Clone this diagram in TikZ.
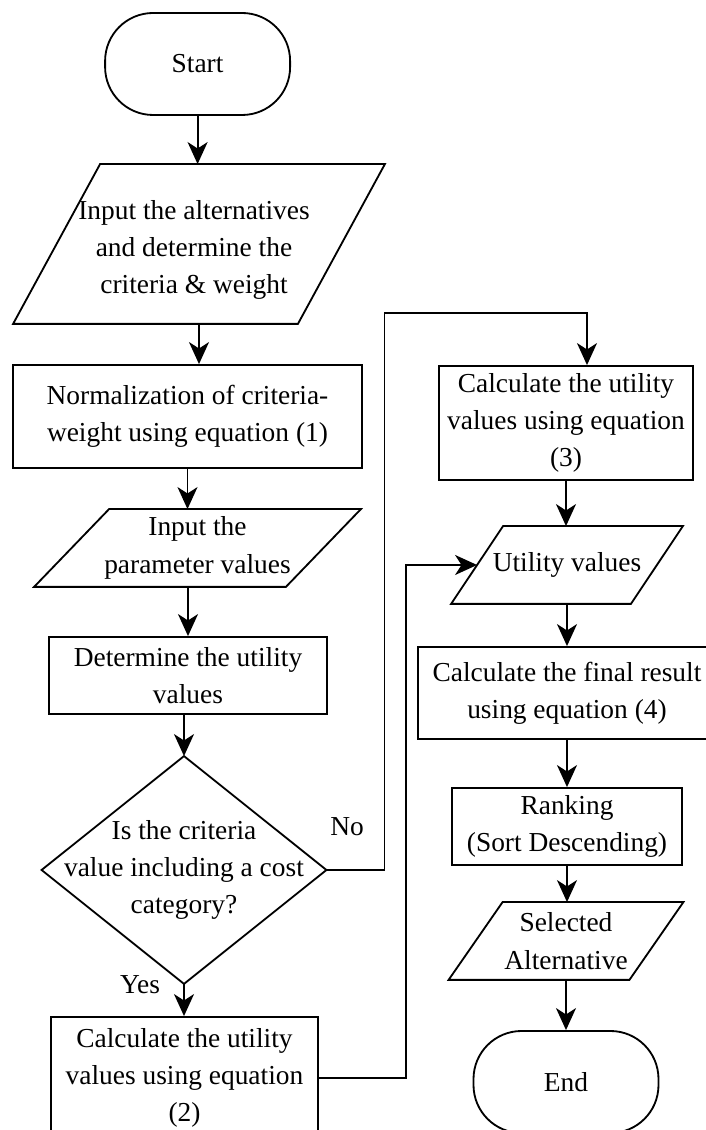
\documentclass[tikz,border=0pt]{standalone}
\usepackage{fontspec}
\setmainfont{Liberation Serif}
\usetikzlibrary{calc, positioning, arrows.meta}
\newcommand{\ioshape}[2]{\draw ($(#1.south west)+(-#2,0)$) -- ($(#1.south east)+(-#2,0)$) -- ($(#1.north east)+(#2,0)$) -- ($(#1.north west)+(#2,0)$) -- cycle;}

\begin{document}
\begin{tikzpicture}[line width=1.3pt, font=\fontsize{19.5}{26.5}\selectfont,
  box/.style={draw, rectangle, align=center, inner sep=0pt},
  term/.style={draw, rectangle, rounded corners=1.2cm, minimum width=4.625cm, minimum height=2.55cm},
  iobox/.style={rectangle, align=center, inner sep=0pt},
  arr/.style={-{Stealth[length=5.5mm, width=5mm, inset=1.6mm]}}]
\useasboundingbox (0,0) rectangle (17.65,28.25);
\clip (0,0) rectangle (17.65,28.25);
\node[term] (start) at (4.94,26.65) {Start};
\node[iobox, minimum width=7.075cm, minimum height=3.95cm] (in1) at (4.975,22.15) {};
\node[align=center] (in1txt) at (4.85,22.0) {Input the alternatives\\and determine the\\criteria \& weight};
\ioshape{in1}{1.0875}
\node[box, minimum width=8.725cm, minimum height=2.575cm] (norm) at (4.6875,17.8375) {Normalization of criteria-\\weight using equation (1)};
\node[iobox, minimum width=6.25cm, minimum height=1.9cm] (in2) at (4.9375,14.55) {Input the\\parameter values};
\ioshape{in2}{0.9375}
\node[box, minimum width=6.95cm, minimum height=1.925cm] (det) at (4.7,11.3625) {Determine the utility\\values};
\node[iobox, minimum width=7.075cm, minimum height=5.65cm] (dec) at (4.6,6.5) {Is the criteria\\value including a cost\\category?};
\draw (dec.north) -- (dec.east) -- (dec.south) -- (dec.west) -- cycle;
\node[box, minimum width=6.675cm, minimum height=3.05cm] (c2) at (4.6125,1.3) {Calculate the utility\\values using equation\\(2)};
\node[box, minimum width=6.35cm, minimum height=2.85cm] (c3) at (14.15,17.675) {Calculate the utility\\values using equation\\(3)};
\node[iobox, minimum width=4.45cm, minimum height=1.9cm] (uv) at (14.175,14.125) {Utility values};
\ioshape{uv}{0.65}
\node[box, minimum width=7.45cm, minimum height=2.3cm] (fin) at (14.175,10.925) {Calculate the final result\\using equation (4)};
\node[box, minimum width=5.75cm, minimum height=1.925cm] (rank) at (14.175,7.5875) {Ranking\\(Sort Descending)};
\node[iobox, minimum width=4.475cm, minimum height=1.9cm] (sel) at (14.15,4.725) {Selected\\Alternative};
\ioshape{sel}{0.675}
\node[term] (end) at (14.15,1.2) {End};
\node (no) at (8.675,7.575) {No};
\node (yes) at (3.5,3.625) {Yes};
\coordinate (c3in) at ($(c3.north)+(0.525,0)$);

\draw[arr] (start.south) -- (start.south |- in1.north);
\draw[arr] (in1.south) -- (in1.south |- norm.north);
\draw[arr] (norm.south) -- (norm.south |- in2.north);
\draw[arr] (det.north |- in2.south) -- (det.north);
\draw[arr] (det.south -| dec.north) -- (dec.north);
\draw[arr] (dec.south) -- (dec.south |- c2.north);
\draw[arr] (dec.east) -- ++(1.45,0) |- ($(c3in)+(0,1.3)$) -- (c3in);
\draw[arr] (c2.east) -- ++(2.175,0) |- (uv.west);
\draw[arr] (c3.south) -- (c3.south |- uv.north);
\draw[arr] (uv.south) -- (uv.south |- fin.north);
\draw[arr] (fin.south) -- (fin.south |- rank.north);
\draw[arr] (rank.south) -- (rank.south |- sel.north);
\draw[arr] (sel.south) -- (sel.south |- end.north);
\end{tikzpicture}
\end{document}
